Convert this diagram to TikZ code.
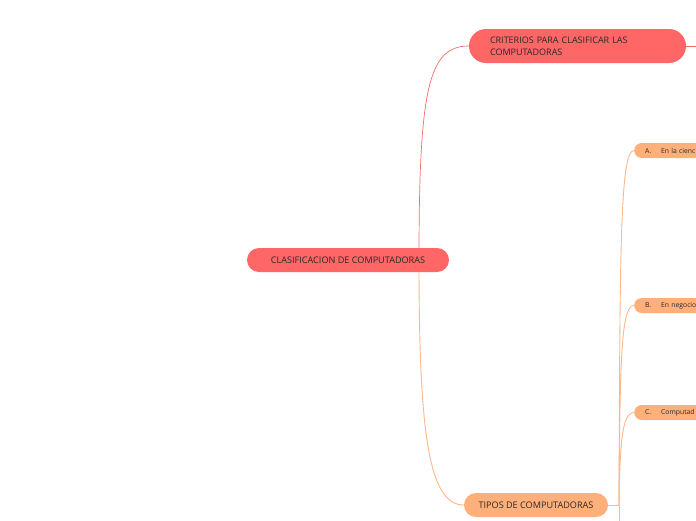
\documentclass[tikz,border=0pt]{standalone}
\usepackage{fontspec}
\setmainfont{Open Sans}
\usetikzlibrary{backgrounds}
\definecolor{redfill}{RGB}{255,102,102}
\definecolor{orfill}{RGB}{255,176,122}
\definecolor{redline}{RGB}{244,110,110}
\definecolor{orline}{RGB}{255,184,140}
\definecolor{txt}{RGB}{40,40,40}
\tikzset{
  pill/.style={rounded corners=#1, inner sep=0pt, text=txt},
  mainpill/.style={pill=12pt, fill=redfill, minimum height=24pt, font=\fontsize{9.1}{11}\selectfont},
  subpill/.style={pill=7.5pt, fill=orfill, minimum height=15pt, anchor=west, minimum width=110pt,
     text width=99pt, align=left, inner xsep=11pt, font=\fontsize{6.8}{8}\selectfont},
  redconn/.style={draw=redline, line width=0.7pt},
  orconn/.style={draw=orline, line width=0.9pt},
}
\begin{document}
\begin{tikzpicture}[x=1pt,y=-1pt]
\clip (0,0) rectangle (696,520);

\node[mainpill, minimum width=202pt] (root) at (348,260) {CLASIFICACION DE COMPUTADORAS};
\node[pill=17pt, fill=redfill, minimum width=217pt, minimum height=34pt, text width=175pt, align=left,
      inner xsep=21pt, font=\fontsize{9}{12}\selectfont] (crit) at (577.5,46)
      {CRITERIOS PARA CLASIFICAR LAS\\COMPUTADORAS};
\node[mainpill, fill=orfill, minimum width=144pt] (tipos) at (536,505) {TIPOS DE COMPUTADORAS};

\node[subpill] (a) at (634,150.5) {\makebox[16pt][l]{A.}En la cienc};
\node[subpill] (b) at (634,305.5) {\makebox[16pt][l]{B.}En negocio};
\node[subpill] (c) at (634,412.5) {\makebox[16pt][l]{C.}Computad};

\coordinate (rj) at (419,260);
\coordinate (cr) at (700,46);
\coordinate (tj) at (619,505);
\coordinate (down) at (619,530);

\begin{pgfonlayer}{background}
\fill[white] (0,0) rectangle (696,520);
\path[redconn] (rj) .. controls (419,90) and (428,46) .. (crit.west);
\path[orconn] (rj) .. controls (419,430) and (428,505) .. (tipos.west);
\path[redconn] (crit.east) -- (cr);
\path[orconn] (tipos.east) -- (tj) -- (down);
\path[orconn] (tj) .. controls (620,250) and (620,150.5) .. (a.west);
\path[orconn] (tj) .. controls (620,360) and (621,305.5) .. (b.west);
\path[orconn] (tj) .. controls (620,450) and (621,412.5) .. (c.west);
\end{pgfonlayer}
\end{tikzpicture}
\end{document}
